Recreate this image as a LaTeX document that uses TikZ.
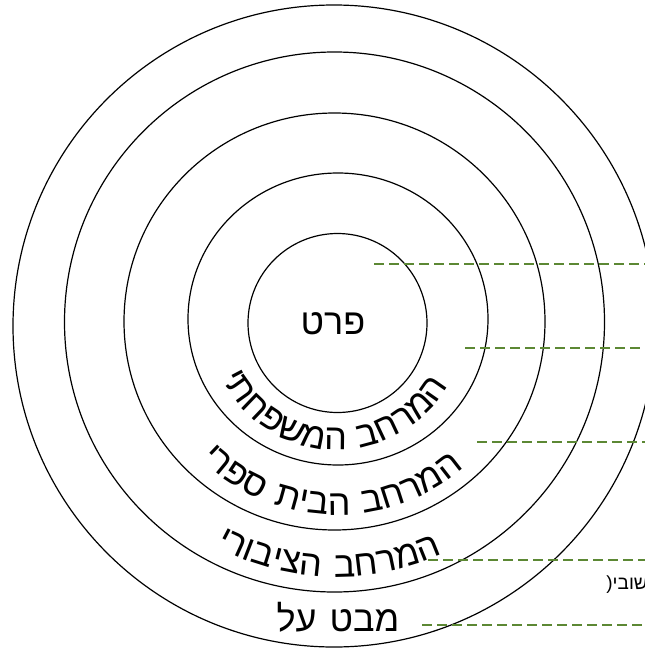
\documentclass[tikz,border=0pt]{standalone}
\usepackage{fontspec}
\setmainfont{Liberation Sans}
\newfontfamily\hebfont[Script=Hebrew]{Liberation Sans}
\TeXXeTstate=1
\usetikzlibrary{calc,decorations.text}
\definecolor{guidegreen}{RGB}{92,136,52}
% letters of a word in visual (left to right) order, for text along a path
\ExplSyntaxOn
\cs_new:Npn \hebrev #1 { \tl_reverse:n {#1} }
\ExplSyntaxOff
\newcommand\bigheb{\hebfont\fontsize{36}{42}\selectfont\fontdimen2\font=13pt\relax}

\begin{document}
\begin{tikzpicture}[x=1pt,y=1pt,
  ring/.style={draw=black,line width=1.2pt},
  guide/.style={draw=guidegreen,line width=2pt,dash pattern=on 9.5pt off 5.5pt},
  biglabel/.style={font=\bigheb,inner sep=0pt},
  smalllabel/.style={font=\hebfont\fontsize{19}{23}\selectfont,inner sep=0pt},
  bandtext/.style={decorate,decoration={text along path,text align=center,
    text/.expanded={|\noexpand\bigheb|\hebrev{#1}}}}]
\useasboundingbox (0,0) rectangle (645,-648);
\coordinate (c) at (337,-322);

% Rings
\draw[ring] (337.5,-323) circle[radius=89.5];
\draw[ring] (338,-319) ellipse[x radius=150,y radius=146];
\draw[ring] (334.5,-321.5) ellipse[x radius=210.5,y radius=208.5];
\draw[ring] (334.5,-322) circle[radius=270];
\draw[ring] (334,-326) circle[radius=321];

% Labels
\node[biglabel] (prat) at (333,-324) {\beginR פרט\endR};
\node[biglabel] (mabat) at (338,-617) {\beginR מבט על\endR};
\node[smalllabel,anchor=east] (hishuvi) at (648,-585) {(\beginR שובי\endR};

% Curved labels
\path[bandtext={המרחב המשפחתי}]
  ($(c)+(178:128)$) arc[start angle=178,end angle=358,radius=128];
\path[bandtext={המרחב הבית ספרי}]
  ($(c)+(178:193)$) arc[start angle=178,end angle=358,radius=193];
\path[bandtext={המרחב הציבורי}]
  ($(c)+(178:255)$) arc[start angle=178,end angle=358,radius=255];

% Guide lines
\coordinate (g1s) at (374,-264); \coordinate (g1e) at (645,-264);
\coordinate (g2s) at (465,-348); \coordinate (g2e) at (645,-348);
\coordinate (g3s) at (477,-442); \coordinate (g3e) at (645,-442);
\coordinate (g4s) at (428,-560); \coordinate (g4e) at (645,-560);
\coordinate (g5s) at (422,-625); \coordinate (g5e) at (645,-625);
\draw[guide] (g1s) -- (g1e);
\draw[guide] (g2s) -- (g2e);
\draw[guide] (g3s) -- (g3e);
\draw[guide] (g4s) -- (g4e);
\draw[guide] (g5s) -- (g5e);
\end{tikzpicture}
\end{document}
